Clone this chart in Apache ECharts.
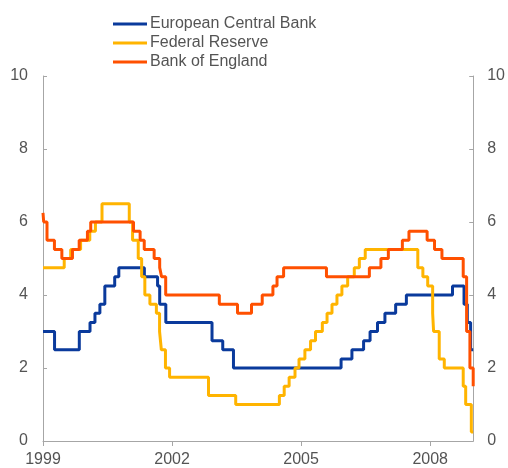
<!DOCTYPE html>
<html lang="en">
<head>
    <meta charset="utf-8">
    <title>Policy rates</title>
    <script src="https://cdn.jsdelivr.net/npm/echarts@6/dist/echarts.min.js"></script>
    <style>
        html, body { margin: 0; padding: 0; background: #fff; }
        #chart { width: 508px; height: 468px; }
    </style>
</head>
<body>
<div id="chart"></div>
<script>
    // 政策利率数据（变动日期 + 利率）
    const ecbDates = ['1999-01-01', '1999-04-09', '1999-11-05', '2000-02-04', '2000-03-17', '2000-04-28',
        '2000-06-09', '2000-09-01', '2000-10-06', '2001-05-11', '2001-08-31', '2001-09-18', '2001-11-09',
        '2002-12-06', '2003-03-07', '2003-06-06', '2005-12-06', '2006-03-08', '2006-06-15', '2006-08-09',
        '2006-10-11', '2006-12-13', '2007-03-14', '2007-06-13', '2008-07-09', '2008-10-15', '2008-11-12',
        '2008-12-10', '2009-01-01'];
    const ecbRates = [3.00, 2.50, 3.00, 3.25, 3.50, 3.75,
        4.25, 4.50, 4.75, 4.50, 4.25, 3.75, 3.25,
        2.75, 2.50, 2.00, 2.25, 2.50, 2.75, 3.00,
        3.25, 3.50, 3.75, 4.00, 4.25, 3.75, 3.25,
        2.50, 2.50];

    const fedDates = ['1999-01-01', '1999-06-30', '1999-08-24', '1999-11-16', '2000-02-02', '2000-03-21',
        '2000-05-16', '2001-01-03', '2001-01-31', '2001-03-20', '2001-04-18', '2001-05-15', '2001-06-27',
        '2001-08-21', '2001-09-17', '2001-10-02', '2001-11-06', '2001-12-11', '2002-11-06', '2003-06-25',
        '2004-06-30', '2004-08-10', '2004-09-21', '2004-11-10', '2004-12-14', '2005-02-02', '2005-03-22',
        '2005-05-03', '2005-06-30', '2005-08-09', '2005-09-20', '2005-11-01', '2005-12-13', '2006-01-31',
        '2006-03-28', '2006-05-10', '2006-06-29', '2007-09-18', '2007-10-31', '2007-12-11', '2008-01-22',
        '2008-01-30', '2008-03-18', '2008-04-30', '2008-10-08', '2008-10-29', '2008-12-16', '2009-01-01'];
    const fedRates = [4.75, 5.00, 5.25, 5.50, 5.75, 6.00,
        6.50, 6.00, 5.50, 5.00, 4.50, 4.00, 3.75,
        3.50, 3.00, 2.50, 2.00, 1.75, 1.25, 1.00,
        1.25, 1.50, 1.75, 2.00, 2.25, 2.50, 2.75,
        3.00, 3.25, 3.50, 3.75, 4.00, 4.25, 4.50,
        4.75, 5.00, 5.25, 4.75, 4.50, 4.25, 3.50,
        3.00, 2.25, 2.00, 1.50, 1.00, 0.25, 0.25];

    const boeDates = ['1999-01-01', '1999-01-07', '1999-02-04', '1999-04-08', '1999-06-10', '1999-09-08',
        '1999-11-04', '2000-01-13', '2000-02-10', '2001-02-08', '2001-04-05', '2001-05-10', '2001-08-02',
        '2001-09-18', '2001-10-04', '2001-11-08', '2003-02-06', '2003-07-10', '2003-11-06', '2004-02-05',
        '2004-05-06', '2004-06-10', '2004-08-05', '2005-08-04', '2006-08-03', '2006-11-09', '2007-01-11',
        '2007-05-10', '2007-07-05', '2007-12-06', '2008-02-07', '2008-04-10', '2008-10-08', '2008-11-06',
        '2008-12-04', '2009-01-01'];
    const boeRates = [6.25, 6.00, 5.50, 5.25, 5.00, 5.25,
        5.50, 5.75, 6.00, 5.75, 5.50, 5.25, 5.00,
        4.75, 4.50, 4.00, 3.75, 3.50, 3.75, 4.00,
        4.25, 4.50, 4.75, 4.50, 4.75, 5.00, 5.25,
        5.50, 5.75, 5.50, 5.25, 5.00, 4.50, 3.00,
        2.00, 1.50];

    const yearTicks = [1999, 2002, 2005, 2008];
    const rateTicks = [0, 2, 4, 6, 8, 10];

    // 日期转为小数年份
    function toYear(s) {
        const [y, m, d] = s.split('-').map(Number);
        const start = Date.UTC(y, 0, 1);
        const end = Date.UTC(y + 1, 0, 1);
        return y + (Date.UTC(y, m - 1, d) - start) / (end - start);
    }

    function pairs(dates, rates) {
        return dates.map((d, i) => [toYear(d), rates[i]]);
    }

    const axisGrey = '#a6a6a6';
    const textGrey = '#545454';
    const font = 'Liberation Sans, Arial, sans-serif';

    function stepSeries(name, color, data) {
        return {
            name: name,
            type: 'line',
            step: 'end',
            data: data,
            symbol: 'none',
            color: color,
            lineStyle: {width: 3, color: color},
            animation: false
        };
    }

    const chart = echarts.init(document.getElementById('chart'));
    const option = {
        animation: false,
        textStyle: {fontFamily: font},
        grid: {left: 43, right: 32, top: 76, bottom: 25, containLabel: false},
        legend: {
            orient: 'vertical',
            left: 113,
            top: 16,
            padding: 0,
            itemWidth: 34,
            itemHeight: 3,
            itemGap: 3,
            icon: 'rect',
            textStyle: {fontSize: 16, color: textGrey, fontFamily: font, padding: [0, 0, 0, -2]},
            data: ['European Central Bank', 'Federal Reserve', 'Bank of England']
        },
        xAxis: {
            type: 'value',
            min: 1999,
            max: 2009,
            splitLine: {show: false},
            axisLine: {show: true, lineStyle: {color: axisGrey, width: 1}},
            axisTick: {show: true, inside: false, length: 5, customValues: yearTicks, lineStyle: {color: axisGrey}},
            axisLabel: {
                customValues: yearTicks,
                color: textGrey,
                fontSize: 16,
                fontFamily: font,
                margin: 11,
                formatter: v => String(Math.round(v))
            }
        },
        yAxis: [{
            type: 'value',
            position: 'left',
            min: 0,
            max: 10,
            interval: 2,
            splitLine: {show: false},
            axisLine: {show: true, lineStyle: {color: axisGrey, width: 1}},
            axisTick: {show: true, inside: true, length: 4, lineStyle: {color: axisGrey}},
            axisLabel: {color: textGrey, fontSize: 16, fontFamily: font, margin: 15, customValues: rateTicks}
        }, {
            type: 'value',
            position: 'right',
            min: 0,
            max: 10,
            interval: 2,
            splitLine: {show: false},
            axisLine: {show: true, lineStyle: {color: axisGrey, width: 1}},
            axisTick: {show: true, inside: true, length: 4, lineStyle: {color: axisGrey}},
            axisLabel: {color: textGrey, fontSize: 16, fontFamily: font, margin: 14, customValues: rateTicks}
        }],
        series: [
            stepSeries('European Central Bank', '#0a3a9c', pairs(ecbDates, ecbRates)),
            stepSeries('Federal Reserve', '#ffb400', pairs(fedDates, fedRates)),
            stepSeries('Bank of England', '#ff5000', pairs(boeDates, boeRates))
        ]
    };
    chart.setOption(option);
</script>
</body>
</html>
